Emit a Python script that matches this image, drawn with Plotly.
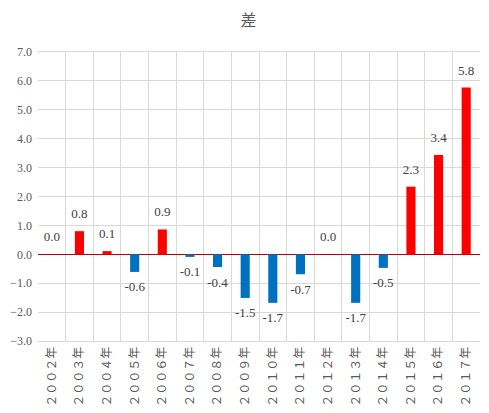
import plotly.graph_objects as go

years = ["２００２年", "２００３年", "２００４年", "２００５年", "２００６年", "２００７年",
         "２００８年", "２００９年", "２０１０年", "２０１１年", "２０１２年", "２０１３年",
         "２０１４年", "２０１５年", "２０１６年", "２０１７年"]
diff = [0.0, 0.80, 0.11, -0.61, 0.86, -0.09, -0.44, -1.51, -1.68, -0.69, 0.0, -1.68,
        -0.47, 2.34, 3.44, 5.77]

colors = ["#FF0000" if v >= 0 else "#0070C0" for v in diff]
label_pos = ["top center" if v >= 0 else "bottom center" for v in diff]

fig = go.Figure()
fig.add_trace(go.Bar(x=years, y=diff, marker_color=colors, marker_line_width=0))
# labels: invisible markers push the text a little away from the bar ends
fig.add_trace(go.Scatter(
    x=years, y=diff, mode="markers+text", text=[f"{v:.1f}" for v in diff],
    textposition=label_pos, marker=dict(size=14, color="rgba(0,0,0,0)"),
    textfont=dict(family="Liberation Serif", size=13, color="#404040"),
    cliponaxis=False, hoverinfo="skip",
))

# page has an 8px body margin, so the figure is a bit smaller than the window
fig.update_layout(
    width=481, height=405,
    margin=dict(l=30, r=9, t=44, b=72, autoexpand=False),
    paper_bgcolor="white", plot_bgcolor="white",
    title=dict(text="差", x=0.5, xanchor="center", y=1 - 12 / 405, yanchor="middle",
               font=dict(family="Noto Sans CJK JP", size=16, color="#595959")),
    bargap=0.67, showlegend=False,
    font=dict(family="Liberation Serif", color="#595959"),
)
fig.update_xaxes(
    type="category", range=[-0.5, len(years) - 0.5], tickson="boundaries",
    showgrid=True, gridcolor="#D9D9D9", gridwidth=1, ticks="", tickangle=-90,
    tickfont=dict(family="Noto Sans CJK JP", size=12, color="#595959"),
    showline=True, linecolor="#D9D9D9", mirror=True, automargin=False,
)
fig.update_yaxes(
    range=[-3, 7], dtick=1, tickformat=".1f", showgrid=True, gridcolor="#D9D9D9",
    zeroline=True, zerolinecolor="#C00000", zerolinewidth=1,
    tickfont=dict(family="Liberation Serif", size=12, color="#595959"),
    ticks="", ticklabelstandoff=5, automargin=False,
)

fig.write_html("out.html")
